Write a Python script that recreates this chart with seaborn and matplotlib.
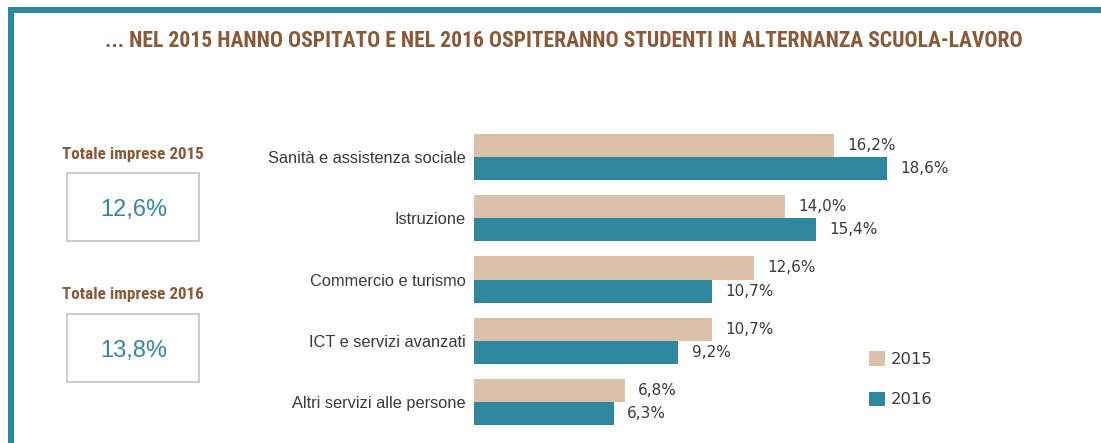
import matplotlib
matplotlib.use("Agg")
import matplotlib.pyplot as plt
from matplotlib import font_manager
from matplotlib.patches import Rectangle, Patch
import seaborn as sns
import pandas as pd

# ---- data ----
categories = ["Sanità e assistenza sociale", "Istruzione", "Commercio e turismo",
              "ICT e servizi avanzati", "Altri servizi alle persone"]
values_2015 = [16.2, 14.0, 12.6, 10.7, 6.8]
values_2016 = [18.6, 15.4, 10.7, 9.2, 6.3]
years = ["2015", "2016"]
total_labels = ["Totale imprese 2015", "Totale imprese 2016"]
total_values = [12.6, 13.8]
title = "... NEL 2015 HANNO OSPITATO E NEL 2016 OSPITERANNO STUDENTI IN ALTERNANZA SCUOLA-LAVORO"

BEIGE = "#DCC1AA"
TEAL = "#2E879F"
BROWN = "#8A5A38"
TEAL_TXT = "#3488A4"
DARK = "#3A3A3A"

W, H = 1101, 443

def fx(x):
    return x / W

def fy(y):
    return 1 - y / H

available = {f.name for f in font_manager.fontManager.ttflist}
cond = "Roboto Condensed" if "Roboto Condensed" in available else "Roboto"

sns.set_theme(style="white")
plt.rcParams["font.family"] = ["DejaVu Sans"]

df = pd.DataFrame({
    "Settore": categories * 2,
    "Valore": values_2015 + values_2016,
    "Anno": [years[0]] * len(categories) + [years[1]] * len(categories),
})

fig = plt.figure(figsize=(W / 100, H / 100), dpi=100)
fig.patch.set_facecolor("white")

ax = fig.add_axes([fx(474), fy(432.5), fx(974) - fx(474), (432.5 - 126.5) / H])
sns.barplot(data=df, y="Settore", x="Valore", hue="Anno", orient="h",
            palette=[BEIGE, TEAL], saturation=1, width=0.754, ax=ax,
            order=categories, hue_order=years, linewidth=0)
ax.set_xlim(0, 22.5)
ax.set_ylim(4.5, -0.5)
for s in ax.spines.values():
    s.set_visible(False)
ax.set_xticks([])
ax.set_xlabel("")
ax.set_ylabel("")
ax.tick_params(axis="y", length=0, pad=6, labelsize=11.8, labelcolor=DARK)
for lab in ax.get_yticklabels():
    lab.set_fontfamily("Liberation Sans")
ax.set_facecolor("white")

for cont in ax.containers:
    labels = [f"{v:.1f}".replace(".", ",") + "%" for v in cont.datavalues]
    ax.bar_label(cont, labels=labels, padding=9.5, fontsize=11, color=DARK,
                 family="DejaVu Sans")

if ax.get_legend() is not None:
    ax.get_legend().remove()
handles = [Patch(facecolor=BEIGE, edgecolor="none"), Patch(facecolor=TEAL, edgecolor="none")]
fig.legend(handles, years, loc="upper left", bbox_to_anchor=(fx(869), fy(351)),
           frameon=False, fontsize=11.8, handlelength=1.0, handleheight=1.0,
           labelspacing=1.5, handletextpad=0.3, borderpad=0, borderaxespad=0,
           labelcolor=DARK)

# title
fig.text(fx(564), fy(41), title, ha="center", va="center", fontsize=15.6,
         fontweight="bold", color=BROWN, family=cond)

# frame lines
fig.add_artist(Rectangle((fx(8), fy(13)), 1 - fx(8), 6 / H, transform=fig.transFigure,
                         facecolor=TEAL, edgecolor="none"))
fig.add_artist(Rectangle((fx(8), 0), 6 / W, fy(7), transform=fig.transFigure,
                         facecolor=TEAL, edgecolor="none"))

# total boxes
label_y = [155, 295]
box_top = [173, 314]
for lbl, val, ly, bt in zip(total_labels, total_values, label_y, box_top):
    fig.text(fx(133), fy(ly), lbl, ha="center", va="center", fontsize=12.3,
             fontweight="bold", color=BROWN, family=cond)
    fig.add_artist(Rectangle((fx(67), fy(bt + 68)), (199 - 67) / W, 68 / H,
                             transform=fig.transFigure, facecolor="white",
                             edgecolor="#C4C4C4", linewidth=1.2))
    fig.text(fx(134), fy(bt + 37), f"{val:.1f}".replace(".", ",") + "%",
             ha="center", va="center", fontsize=17, color=TEAL_TXT,
             family="Liberation Sans")

fig.savefig("out.png", dpi=100, facecolor="white")
